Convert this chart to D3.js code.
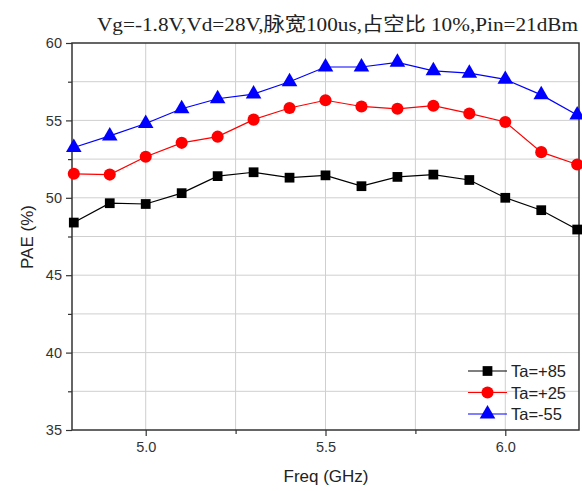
<!DOCTYPE html>
<html><head><meta charset="utf-8">
<script src="https://cdn.jsdelivr.net/npm/d3@7"></script>
<style>body{margin:0;background:#fff}svg{display:block}</style>
</head><body>
<svg id="c" width="582" height="491"></svg>
<script>
const freq = [4.8,4.9,5.0,5.1,5.2,5.3,5.4,5.5,5.6,5.7,5.8,5.9,6.0,6.1,6.2];
const ta85 = [48.4,49.65,49.6,50.3,51.4,51.65,51.3,51.45,50.75,51.35,51.5,51.15,50.0,49.2,47.95];
const ta25 = [51.55,51.5,52.65,53.55,53.95,55.05,55.8,56.3,55.9,55.75,55.95,55.45,54.9,52.95,52.15];
const tam55 = [53.25,54.0,54.8,55.75,56.4,56.7,57.5,58.45,58.45,58.75,58.2,58.05,57.65,56.65,55.35];
const seriesNames = ["Ta=+85","Ta=+25","Ta=-55"];
const xTicks = [5.0,5.5,6.0];
const yTicks = [35,40,45,50,55,60];
const titleText = "Vg=-1.8V,Vd=28V,脉宽100us,占空比 10%,Pin=21dBm";

const svg = d3.select("#c");
const L=72,R=579,T=43,B=430;
const x = d3.scaleLinear().domain([4.795,6.205]).range([L,R]);
const y = d3.scaleLinear().domain([35,60]).range([B,T]);
const gridX = d3.range(4.75,6.26,0.25).filter(v=>v>x.domain()[0]&&v<x.domain()[1]);
const gridY = d3.range(37.5,60,2.5);

svg.append("g").selectAll("line").data(gridX).join("line")
  .attr("x1",d=>x(d)).attr("x2",d=>x(d)).attr("y1",T).attr("y2",B)
  .attr("stroke","#cfcfcf").attr("stroke-width",1);
svg.append("g").selectAll("line").data(gridY).join("line")
  .attr("x1",L).attr("x2",R).attr("y1",d=>y(d)).attr("y2",d=>y(d))
  .attr("stroke","#cfcfcf").attr("stroke-width",1);

svg.append("g").attr("transform",`translate(0,${B})`)
  .call(d3.axisBottom(x).tickValues(xTicks).tickFormat(d3.format(".1f")).tickSize(6).tickPadding(6));
svg.append("g").attr("transform",`translate(0,${B})`)
  .call(d3.axisBottom(x).tickValues(gridX.filter(v=>!xTicks.includes(v))).tickFormat("").tickSize(4));
svg.append("g").attr("transform",`translate(${L},0)`)
  .call(d3.axisLeft(y).tickValues(yTicks).tickSize(6).tickPadding(4));
svg.append("g").attr("transform",`translate(${L},0)`)
  .call(d3.axisLeft(y).tickValues(gridY.filter(v=>!yTicks.includes(v))).tickFormat("").tickSize(4));
svg.selectAll(".domain").remove();
svg.selectAll(".tick line").attr("stroke","#333").attr("stroke-width",1.2);
svg.selectAll(".tick text").attr("font-family","Liberation Sans, Arial, sans-serif").attr("font-size",14.5).attr("fill","#333");

svg.append("rect").attr("x",L).attr("y",T).attr("width",R-L).attr("height",B-T)
  .attr("fill","none").attr("stroke","#333").attr("stroke-width",1.5);

const series = [
  {name:seriesNames[0], vals:ta85, color:"#000000", sym:d3.symbolSquare, size:95},
  {name:seriesNames[1], vals:ta25, color:"#ff0000", sym:d3.symbolCircle, size:115},
  {name:seriesNames[2], vals:tam55, color:"#0000ff", sym:d3.symbolTriangle, size:105},
];
const line = d3.line().x((d,i)=>x(freq[i])).y(d=>y(d));
series.forEach(s=>{
  svg.append("path").datum(s.vals).attr("d",line).attr("fill","none")
    .attr("stroke",s.color).attr("stroke-width",1.2);
  svg.append("g").selectAll("path").data(s.vals).join("path")
    .attr("transform",(d,i)=>`translate(${x(freq[i])},${y(d)})`)
    .attr("d",d3.symbol(s.sym,s.size)).attr("fill",s.color);
});

const lg = svg.append("g");
series.forEach((s,i)=>{
  const yy = 371 + i*21.5;
  lg.append("line").attr("x1",468).attr("x2",507).attr("y1",yy).attr("y2",yy)
    .attr("stroke",s.color).attr("stroke-width",1.2);
  lg.append("path").attr("transform",`translate(487.5,${yy})`)
    .attr("d",d3.symbol(s.sym,s.size)).attr("fill",s.color);
  lg.append("text").attr("x",511).attr("y",yy+6).text(s.name)
    .attr("font-family","Liberation Sans, Arial, sans-serif").attr("font-size",16.5).attr("fill","#222");
});

svg.append("text").attr("x",97).attr("y",31).attr("textLength",481).attr("lengthAdjust","spacingAndGlyphs")
  .attr("font-family","Liberation Serif, 'Noto Sans CJK SC', serif").attr("font-size",19).attr("fill","#222")
  .text(titleText);
svg.append("text").attr("x",326).attr("y",482).attr("text-anchor","middle")
  .attr("font-family","Liberation Sans, Arial, sans-serif").attr("font-size",17).attr("fill","#222").text("Freq (GHz)");
svg.append("text").attr("transform","translate(33,237) rotate(-90)").attr("text-anchor","middle")
  .attr("font-family","Liberation Sans, Arial, sans-serif").attr("font-size",17).attr("fill","#222").text("PAE (%)");
</script>
</body></html>
